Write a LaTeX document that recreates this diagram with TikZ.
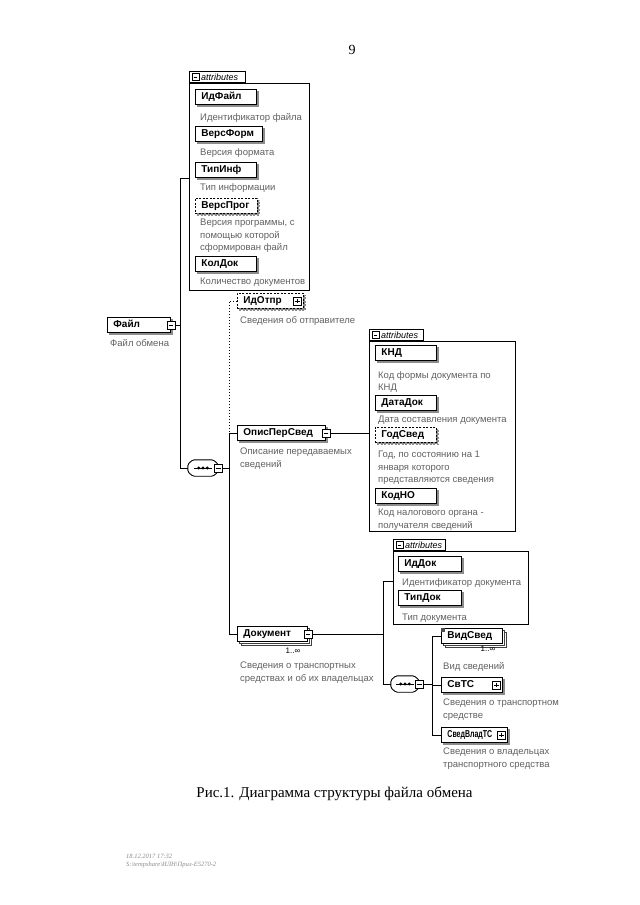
\documentclass[tikz,border=0pt]{standalone}
\usepackage{fontspec}
\setmainfont{Liberation Serif}
\setsansfont{Liberation Sans}
\usetikzlibrary{shadows}
\newcommand\elemfont{\sffamily\bfseries\fontsize{10bp}{12bp}\selectfont}
\newcommand\descfont{\sffamily\fontsize{9.5bp}{12.3bp}\selectfont}
\newcommand\seqpath[1]{([xshift=5bp]#1.north west) -- ([xshift=-5bp]#1.north east) -- ([yshift=-4.5bp]#1.north east) -- ([yshift=4.5bp]#1.south east) -- ([xshift=-5bp]#1.south east) -- ([xshift=5bp]#1.south west) -- ([yshift=4.5bp]#1.south west) -- ([yshift=-4.5bp]#1.north west) -- cycle}
\newcommand\seqoutline[1]{%
  \begin{scope}[yshift=-1.8bp]
    \fill[black!40, rounded corners=1.5bp] \seqpath{#1};
  \end{scope}
  \filldraw[fill=white, draw=black, line width=0.9bp, rounded corners=1.5bp] \seqpath{#1};
  \draw[line width=0.7bp] ([xshift=-9bp]#1.center) -- ([xshift=9bp]#1.center);
  \fill ([xshift=-4.2bp]#1.center) circle (1.6bp);
  \fill (#1.center) circle (1.6bp);
  \fill ([xshift=4.2bp]#1.center) circle (1.6bp);}
\begin{document}
\begin{tikzpicture}[x=1bp,y=-1bp,
  conn/.style={draw=black, line width=0.9bp},
  optconn/.style={conn, dash pattern=on 1.5bp off 1.5bp},
  shade/.style={general shadow={shadow xshift=1.6bp, shadow yshift=-1.6bp, fill=black!45, draw=black!45}},
  multi/.style={general shadow={shadow xshift=4bp, shadow yshift=-4bp, fill=white, draw=black!75, line width=0.7bp},
                general shadow={shadow xshift=2bp, shadow yshift=-2bp, fill=white, draw=black!75, line width=0.7bp}},
  elembase/.style={draw=black, line width=0.9bp, fill=white, font=\elemfont, anchor=north west,
    minimum height=15bp, inner xsep=6bp, inner ysep=0bp, text height=7.5bp, text depth=2bp,
    align=left, text width=#1},
  elembase/.default=49bp,
  elem/.style={elembase=#1, shade},
  elem/.default=49bp,
  opt/.style={dash pattern=on 2bp off 1.5bp},
  pmbox/.style={draw=black, line width=0.7bp, fill=white, minimum size=8bp, inner sep=0bp},
  minus/.style={pmbox, path picture={\draw[line width=0.7bp] ([xshift=1.6bp]path picture bounding box.west) -- ([xshift=-1.6bp]path picture bounding box.east);}},
  plus/.style={pmbox, path picture={\draw[line width=0.7bp] ([xshift=1.6bp]path picture bounding box.west) -- ([xshift=-1.6bp]path picture bounding box.east);
      \draw[line width=0.7bp] ([yshift=-1.6bp]path picture bounding box.north) -- ([yshift=1.6bp]path picture bounding box.south);}},
  attrbox/.style={draw=black, line width=0.8bp, fill=white, anchor=north west, inner sep=0bp},
  tabbox/.style={draw=black, line width=0.8bp, fill=white, anchor=south west, inner sep=0bp, minimum height=11.5bp},
  tabtext/.style={anchor=west, inner sep=0bp, font=\sffamily\itshape\fontsize{9bp}{10bp}\selectfont},
  desc/.style={anchor=north west, inner sep=0bp, font=\descfont, text=black!62, align=left},
  card/.style={inner sep=0bp, font=\sffamily\fontsize{8bp}{9bp}\selectfont},
  seq/.style={rectangle, draw=none, minimum width=#1, minimum height=16bp, inner sep=0bp},
  foot/.style={inner sep=0bp, anchor=base west, font=\itshape\fontsize{6.5bp}{8bp}\selectfont, text=black!45}
]
\useasboundingbox (0,0) rectangle (640,905);
\fill[white] (0,0) rectangle (640,905);

\node[font=\fontsize{14bp}{16bp}\selectfont, inner sep=0bp] (pnum) at (352,50) {9};

% ---------- attributes of Файл
\node[attrbox, minimum width=120bp, minimum height=207bp] (attr1) at (189,83) {};
\node[tabbox, minimum width=56bp] (attr1tab) at (attr1.north west) {};
\node[minus, minimum size=7bp] (attr1tabm) at ([xshift=6.5bp]attr1tab.west) {};
\node[tabtext] (attr1tabt) at ([xshift=12bp]attr1tab.west) {attributes};

\node[elem] (idfile) at (195,89) {ИдФайл};
\node[desc] (idfiled) at (200,113) {Идентификатор файла};
\node[elem=55bp] (versform) at (195,126) {ВерсФорм};
\node[desc] (versformd) at (200,148) {Версия формата};
\node[elem] (tipinf) at (195,162) {ТипИнф};
\node[desc] (tipinfd) at (200,183) {Тип информации};
\node[elem=50bp, opt] (versprog) at (195,198) {ВерсПрог};
\node[desc] (versprogd) at (200,219) {Версия программы, с\\помощью которой\\сформирован файл};
\node[elem] (koldok) at (195,256) {КолДок};
\node[desc] (koldokd) at (200,278) {Количество документов};

% ---------- Файл
\node[elem=51bp] (fail) at (107,317) {Файл};
\node[minus] (failm) at (fail.east) {};
\node[desc] (faild) at (110,339) {Файл обмена};

\node[seq=30bp] (seq1) at (203,468) {};
\seqoutline{seq1}
\node[minus] (seq1m) at (seq1.east) {};

% ---------- children of sequence 1
\node[elem=54bp, opt] (idotpr) at (237,293) {ИдОтпр};
\node[plus] (idotprp) at ([xshift=-6.5bp]idotpr.east) {};
\node[desc] (idotprd) at (240,316) {Сведения об отправителе};

\node[elem=76bp] (opis) at (237,425) {ОписПерСвед};
\node[minus] (opism) at (opis.east) {};
\node[desc] (opisd) at (240,448) {Описание передаваемых\\сведений};

\node[elembase=58bp, multi] (dok) at (237,626) {Документ};
\node[minus] (dokm) at (dok.east) {};
\node[card] (dokc) at (293,651) {1..∞};
\node[desc] (dokd) at (240,662) {Сведения о транспортных\\средствах и об их владельцах};

% ---------- attributes of ОписПерСвед
\node[attrbox, minimum width=146bp, minimum height=190bp] (attr2) at (369,341) {};
\node[tabbox, minimum width=54bp] (attr2tab) at (attr2.north west) {};
\node[minus, minimum size=7bp] (attr2tabm) at ([xshift=6.5bp]attr2tab.west) {};
\node[tabtext] (attr2tabt) at ([xshift=12bp]attr2tab.west) {attributes};

\node[elem] (knd) at (375,345) {КНД};
\node[desc] (kndd) at (378,371) {Код формы документа по\\КНД};
\node[elem] (datadok) at (375,395) {ДатаДок};
\node[desc] (datadokd) at (378,416) {Дата составления документа};
\node[elem, opt] (godsved) at (375,427) {ГодСвед};
\node[desc] (godsvedd) at (378,451) {Год, по состоянию на 1\\января которого\\представляются сведения};
\node[elem] (kodno) at (375,488) {КодНО};
\node[desc] (kodnod) at (378,509) {Код налогового органа -\\получателя сведений};

% ---------- attributes of Документ
\node[attrbox, minimum width=135bp, minimum height=73bp] (attr3) at (393,551) {};
\node[tabbox, minimum width=52bp] (attr3tab) at (attr3.north west) {};
\node[minus, minimum size=7bp] (attr3tabm) at ([xshift=6.5bp]attr3tab.west) {};
\node[tabtext] (attr3tabt) at ([xshift=12bp]attr3tab.west) {attributes};

\node[elem=51bp] (iddok) at (398,556) {ИдДок};
\node[desc] (iddokd) at (402,578) {Идентификатор документа};
\node[elem=51bp] (tipdok) at (398,590) {ТипДок};
\node[desc] (tipdokd) at (402,614) {Тип документа};

\node[seq=28bp] (seq2) at (405,684) {};
\seqoutline{seq2}
\node[minus] (seq2m) at (seq2.east) {};

% ---------- children of sequence 2
\node[elembase, multi] (vid) at (441,628) {ВидСвед};
\fill[black!70] (vid.north west) rectangle ++(4,4);
\node[card] (vidc) at (488,649) {1..∞};
\node[desc] (vidd) at (443,662) {Вид сведений};

\node[elem] (svts) at (441,677) {СвТС};
\node[plus] (svtsp) at ([xshift=-6.5bp]svts.east) {};
\node[desc] (svtsd) at (443,699) {Сведения о транспортном\\средстве};

\node[elem=54bp] (svedvlad) at (441,727) {\scalebox{0.7}[1]{СведВладТС}};
\node[plus] (svedvladp) at ([xshift=-6.5bp]svedvlad.east) {};
\node[desc] (svedvladd) at (443,748) {Сведения о владельцах\\транспортного средства};

% ---------- connectors
\coordinate (b1) at (180,178);
\coordinate (b1b) at (180,468);
\draw[conn] (attr1.west |- b1) -- (b1) -- (b1b) -- (seq1.west);
\draw[conn] (failm.east) -- (failm.east -| b1);

\coordinate (b2) at (229,468);
\draw[conn] (seq1m.east) -- (b2);
\draw[optconn] (idotpr.west) -- (idotpr.west -| b2) -- (opis.west -| b2);
\draw[conn] (opis.west) -- (opis.west -| b2) -- (dok.west -| b2) -- (dok.west);

\draw[conn] (opism.east) -- (opism.east -| attr2.west);

\coordinate (b3) at (383,581);
\draw[conn] (attr3.west |- b3) -- (b3) -- (b3 |- seq2.west) -- (seq2.west);
\draw[conn] (dokm.east) -- (dokm.east -| b3);

\coordinate (b4) at (432,684);
\draw[conn] (seq2m.east) -- (seq2m.east -| b4);
\draw[conn] (vid.west) -- (vid.west -| b4) -- (svedvlad.west -| b4) -- (svedvlad.west);
\draw[conn] (svts.west -| b4) -- (svts.west);

% ---------- caption and footer
\node[font=\fontsize{15bp}{18bp}\selectfont, anchor=base, inner sep=0bp] (cap) at (334.5,797) {Рис.1. Диаграмма структуры файла обмена};
\node[foot] (f1) at (126,858) {18.12.2017 17:32};
\node[foot] (f2) at (126,866) {S:\textbackslash tempshare\textbackslash ИЛН\textbackslash Прил-E5270-2};
\end{tikzpicture}
\end{document}
